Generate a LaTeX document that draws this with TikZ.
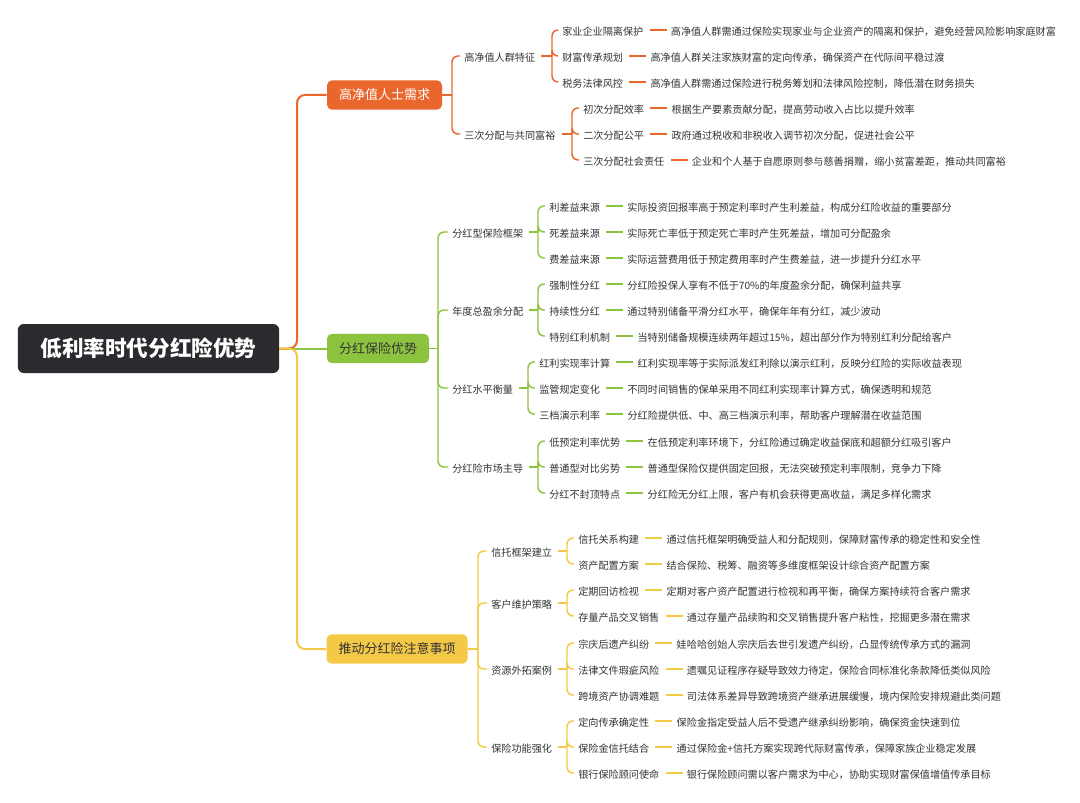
\documentclass[tikz,border=0pt]{standalone}
\usepackage{fontspec}
\setmainfont{Noto Sans CJK SC}
\usetikzlibrary{calc}
\definecolor{rootgray}{RGB}{42,43,46}
\definecolor{needorange}{RGB}{233,103,45}
\definecolor{advgreen}{RGB}{141,196,63}
\definecolor{tipyellow}{RGB}{244,201,72}
\definecolor{inkgray}{RGB}{51,51,51}

\begin{document}
\begin{tikzpicture}[x=0.75pt,y=-0.75pt,
  rootbox/.style={fill=rootgray,text=white,rounded corners=4.5pt,minimum width=196pt,minimum height=36.75pt,font=\fontsize{16.2}{18}\selectfont\bfseries},
  topicbox/.style={rounded corners=3.75pt,minimum height=22pt,inner xsep=9pt,text=inkgray,font=\fontsize{9.75}{11}\selectfont},
  mmtext/.style={anchor=west,inner sep=0pt,text height=0.88em,text depth=0.12em,text=inkgray,font=\fontsize{7.6}{9}\selectfont},
  trunk/.style={line width=1.5pt,rounded corners=6pt},
  twig/.style={line width=1.1pt,rounded corners=4.5pt}]
\useasboundingbox (0,0) rectangle (1080,802);

% centre and the three main branches
\node[rootbox] (root) at (148.5,348.5) {低利率时代分红险优势};
\node[topicbox,fill=needorange,text=white] (need) at (384.5,95) {高净值人士需求};
\node[topicbox,fill=advgreen] (adv) at (378,348.5) {分红保险优势};
\node[topicbox,fill=tipyellow] (tip) at (397,649) {推动分红险注意事项};
\coordinate (hub) at (297,348.5);
\draw[trunk,advgreen] (root.east) -- (adv.west);
\draw[trunk,needorange] (root.east) -- (hub) |- (need.west);
\draw[trunk,tipyellow] (root.east) -- (hub) |- (tip.west);

% orange branch
\coordinate (need-fork) at (452,95);
\draw[twig,needorange] (need.east) -- (need-fork);
\foreach \k/\y/\bx/\lab in {a/56/552/高净值人群特征,b/134/572/三次分配与共同富裕}{
  \node[mmtext] (need\k) at (464,\y) {\lab};
  \coordinate (need\k-fork) at (\bx,\y);
  \draw[twig,needorange] (need-fork) |- ([xshift=-3pt]need\k.west);
  \draw[twig,needorange] ([xshift=4.5pt]need\k.east) -- (need\k-fork);
}
\foreach \k/\n/\x/\y/\lab/\txt in {
  a/1/562/30/家业企业隔离保护/高净值人群需通过保险实现家业与企业资产的隔离和保护，避免经营风险影响家庭财富,
  a/2/562/56/财富传承规划/高净值人群关注家族财富的定向传承，确保资产在代际间平稳过渡,
  a/3/562/82/税务法律风控/高净值人群需通过保险进行税务筹划和法律风险控制，降低潜在财务损失,
  b/1/583/108/初次分配效率/根据生产要素贡献分配，提高劳动收入占比以提升效率,
  b/2/583/134/二次分配公平/政府通过税收和非税收入调节初次分配，促进社会公平,
  b/3/583/160/三次分配社会责任/企业和个人基于自愿原则参与慈善捐赠，缩小贫富差距，推动共同富裕}{
  \node[mmtext] (need\k\n) at (\x,\y) {\lab};
  \node[mmtext] (need\k\n-d) at ($(need\k\n.east)+(27,0)$) {\txt};
  \draw[twig,needorange] (need\k-fork) |- ([xshift=-3pt]need\k\n.west);
  \draw[twig,needorange] ([xshift=4.5pt]need\k\n.east) -- ([xshift=-3pt]need\k\n-d.west);
}

% green branch
\coordinate (adv-fork) at (438,348.5);
\draw[twig,advgreen] (adv.east) -- (adv-fork);
\foreach \k/\y/\bx/\lab in {a/232/538/分红型保险框架,b/310/538/年度总盈余分配,c/388/528/分红水平衡量,d/467/538/分红险市场主导}{
  \node[mmtext] (adv\k) at (452,\y) {\lab};
  \coordinate (adv\k-fork) at (\bx,\y);
  \draw[twig,advgreen] (adv-fork) |- ([xshift=-3pt]adv\k.west);
  \draw[twig,advgreen] ([xshift=4.5pt]adv\k.east) -- (adv\k-fork);
}
\foreach \k/\n/\x/\y/\lab/\txt in {
  a/1/549/206/利差益来源/实际投资回报率高于预定利率时产生利差益，构成分红险收益的重要部分,
  a/2/549/232/死差益来源/实际死亡率低于预定死亡率时产生死差益，增加可分配盈余,
  a/3/549/258/费差益来源/实际运营费用低于预定费用率时产生费差益，进一步提升分红水平,
  b/1/549/284/强制性分红/分红险投保人享有不低于70\%的年度盈余分配，确保利益共享,
  b/2/549/310/持续性分红/通过特别储备平滑分红水平，确保年年有分红，减少波动,
  b/3/549/336/特别红利机制/当特别储备规模连续两年超过15\%，超出部分作为特别红利分配给客户,
  c/1/539/362/红利实现率计算/红利实现率等于实际派发红利除以演示红利，反映分红险的实际收益表现,
  c/2/539/388/监管规定变化/不同时间销售的保单采用不同红利实现率计算方式，确保透明和规范,
  c/3/539/414/三档演示利率/分红险提供低、中、高三档演示利率，帮助客户理解潜在收益范围,
  d/1/549/441/低预定利率优势/在低预定利率环境下，分红险通过确定收益保底和超额分红吸引客户,
  d/2/549/467/普通型对比劣势/普通型保险仅提供固定回报，无法突破预定利率限制，竞争力下降,
  d/3/549/493/分红不封顶特点/分红险无分红上限，客户有机会获得更高收益，满足多样化需求}{
  \node[mmtext] (adv\k\n) at (\x,\y) {\lab};
  \node[mmtext] (adv\k\n-d) at ($(adv\k\n.east)+(27,0)$) {\txt};
  \draw[twig,advgreen] (adv\k-fork) |- ([xshift=-3pt]adv\k\n.west);
  \draw[twig,advgreen] ([xshift=4.5pt]adv\k\n.east) -- ([xshift=-3pt]adv\k\n-d.west);
}

% yellow branch
\coordinate (tip-fork) at (478,649);
\draw[twig,tipyellow] (tip.east) -- (tip-fork);
\foreach \k/\y/\lab in {a/551/信托框架建立,b/603/客户维护策略,c/669/资源外拓案例,d/747/保险功能强化}{
  \node[mmtext] (tip\k) at (491,\y) {\lab};
  \coordinate (tip\k-fork) at (567,\y);
  \draw[twig,tipyellow] (tip-fork) |- ([xshift=-3pt]tip\k.west);
  \draw[twig,tipyellow] ([xshift=4.5pt]tip\k.east) -- (tip\k-fork);
}
\foreach \k/\n/\y/\lab/\txt in {
  a/1/538/信托关系构建/通过信托框架明确受益人和分配规则，保障财富传承的稳定性和安全性,
  a/2/564/资产配置方案/结合保险、税筹、融资等多维度框架设计综合资产配置方案,
  b/1/590/定期回访检视/定期对客户资产配置进行检视和再平衡，确保方案持续符合客户需求,
  b/2/616/存量产品交叉销售/通过存量产品续购和交叉销售提升客户粘性，挖掘更多潜在需求,
  c/1/643/宗庆后遗产纠纷/娃哈哈创始人宗庆后去世引发遗产纠纷，凸显传统传承方式的漏洞,
  c/2/669/法律文件瑕疵风险/遗嘱见证程序存疑导致效力待定，保险合同标准化条款降低类似风险,
  c/3/695/跨境资产协调难题/司法体系差异导致跨境资产继承进展缓慢，境内保险安排规避此类问题,
  d/1/721/定向传承确定性/保险金指定受益人后不受遗产继承纠纷影响，确保资金快速到位,
  d/2/747/保险金信托结合/通过保险金+信托方案实现跨代际财富传承，保障家族企业稳定发展,
  d/3/773/银行保险顾问使命/银行保险顾问需以客户需求为中心，协助实现财富保值增值传承目标}{
  \node[mmtext] (tip\k\n) at (578,\y) {\lab};
  \node[mmtext] (tip\k\n-d) at ($(tip\k\n.east)+(27,0)$) {\txt};
  \draw[twig,tipyellow] (tip\k-fork) |- ([xshift=-3pt]tip\k\n.west);
  \draw[twig,tipyellow] ([xshift=4.5pt]tip\k\n.east) -- ([xshift=-3pt]tip\k\n-d.west);
}
\end{tikzpicture}
\end{document}
